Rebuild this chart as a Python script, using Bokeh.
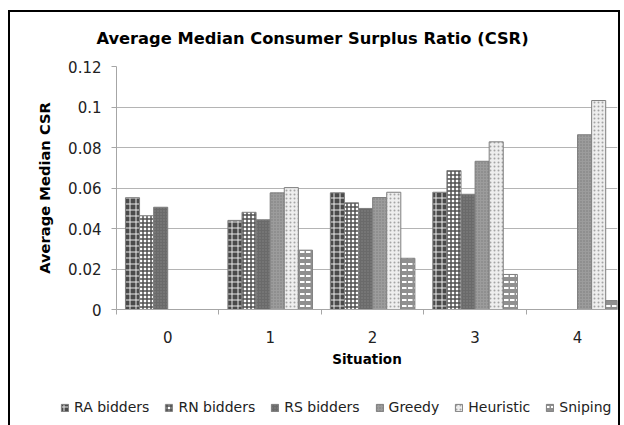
import numpy as np
from bokeh.plotting import figure
from bokeh.layouts import column
from bokeh.models import (ColumnDataSource, FixedTicker, Legend, LegendItem, Range1d,
                          InlineStyleSheet, Label)
from bokeh.transform import dodge
from bokeh.embed import file_html
from bokeh.resources import INLINE

nan = np.nan
situations = [0, 1, 2, 3, 4]
tick_labels = {0: "0", 1: "1", 2: "2", 3: "3", 4: "4"}
series_names = ["RA bidders", "RN bidders", "RS bidders", "Greedy", "Heuristic", "Sniping"]
ra_bidders = [0.0552, 0.0440, 0.0576, 0.0579, nan]
rn_bidders = [0.0463, 0.0480, 0.0527, 0.0686, nan]
rs_bidders = [0.0505, 0.0443, 0.0499, 0.0569, nan]
greedy = [nan, 0.0576, 0.0553, 0.0732, 0.0863]
heuristic = [nan, 0.0602, 0.0579, 0.0828, 0.1032]
sniping = [nan, 0.0293, 0.0253, 0.0173, 0.0044]

source = ColumnDataSource(dict(
    x=situations, ra=ra_bidders, rn=rn_bidders, rs=rs_bidders,
    greedy=greedy, heuristic=heuristic, sniping=sniping))


def strip(height):
    f = figure(width=624, height=height, output_backend="svg", toolbar_location=None,
               x_range=Range1d(0, 1), y_range=Range1d(0, 1),
               min_border_left=0, min_border_right=0, min_border_top=0, min_border_bottom=0)
    f.axis.visible = False
    f.grid.visible = False
    f.outline_line_color = None
    f.border_fill_color = "white"
    return f


# title strip
tf = strip(56)
tf.add_layout(Label(x=312, y=18, x_units="screen", y_units="screen",
                    text="Average Median Consumer Surplus Ratio (CSR)",
                    text_align="center", text_baseline="middle", text_font="DejaVu Sans",
                    text_font_style="bold", text_font_size="16.3px", text_color="black"))

p = figure(width=624, height=334, output_backend="svg", toolbar_location=None,
           x_range=Range1d(-0.5, 4.39), y_range=Range1d(0, 0.12),
           min_border_left=116, min_border_right=7, min_border_top=10,
           min_border_bottom=81)
p.outline_line_color = None
p.background_fill_color = "white"
p.border_fill_color = "white"

styles = [
    dict(fill_color="#4a4a4a", hatch_pattern="cross", hatch_color="#e8e8e8", hatch_scale=6, hatch_weight=1),
    dict(fill_color="white", hatch_pattern="cross", hatch_color="#505050", hatch_scale=4, hatch_weight=1.5),
    dict(fill_color="#6a6a6a", hatch_pattern="dot", hatch_color="#858585", hatch_scale=3, hatch_weight=1),
    dict(fill_color="#9c9c9c", hatch_pattern="dot", hatch_color="#7a7a7a", hatch_scale=3, hatch_weight=1),
    dict(fill_color="#eeeeee", hatch_pattern="dot", hatch_color="#a4a4a4", hatch_scale=4, hatch_weight=2.5),
    dict(fill_color="#909090", hatch_pattern="horizontal_dash", hatch_color="white", hatch_scale=6, hatch_weight=2),
]
cols = ["ra", "rn", "rs", "greedy", "heuristic", "sniping"]
bw = 0.1375
for i, (c, st) in enumerate(zip(cols, styles)):
    p.vbar(x=dodge("x", (i - 2.5) * bw, range=p.x_range), top=c, width=bw,
           source=source, line_color="#7f7f7f", line_width=1, **st)

# axes
p.yaxis.ticker = FixedTicker(ticks=[0, 0.02, 0.04, 0.06, 0.08, 0.1, 0.12])
p.yaxis.major_label_overrides = {0: "0", 0.02: "0.02", 0.04: "0.04", 0.06: "0.06",
                                 0.08: "0.08", 0.1: "0.1", 0.12: "0.12"}
p.xaxis.ticker = FixedTicker(ticks=situations, minor_ticks=[-0.5, 0.5, 1.5, 2.5, 3.5, 4.5])
p.xaxis.major_label_overrides = tick_labels
for ax in (p.xaxis, p.yaxis):
    ax.axis_line_color = "#a6a6a6"
    ax.major_tick_line_color = "#a6a6a6"
    ax.minor_tick_line_color = "#a6a6a6"
    ax.major_label_text_font = "DejaVu Sans"
    ax.major_label_text_font_size = "15px"
    ax.major_label_text_color = "#222222"
    ax.axis_label_text_font = "DejaVu Sans"
    ax.axis_label_text_font_style = "bold"
    ax.axis_label_text_color = "black"
p.xaxis.axis_label_text_font_size = "13.5px"
p.yaxis.axis_label_text_font_size = "14.7px"
p.yaxis.major_tick_out = 5
p.yaxis.major_tick_in = 0
p.yaxis.minor_tick_out = 0
p.yaxis.minor_tick_in = 0
p.yaxis.major_label_standoff = 10
p.yaxis.axis_label = "Average Median CSR"
p.yaxis.axis_label_standoff = 12
p.xaxis.major_tick_out = 0
p.xaxis.major_tick_in = 0
p.xaxis.minor_tick_out = 5
p.xaxis.minor_tick_in = 0
p.xaxis.major_label_standoff = 16
p.xaxis.axis_label = "Situation"
p.xaxis.axis_label_standoff = 5
p.xgrid.grid_line_color = None
p.ygrid.grid_line_color = "#b4b4b4"
p.ygrid.ticker = FixedTicker(ticks=[0.02, 0.04, 0.06, 0.08, 0.1, 0.12])

# legend strip (separate small figure holding the key)
lg = strip(35)
proxy = ColumnDataSource(dict(x=[nan], top=[nan]))
items = []
for name, st in zip(series_names, styles):
    r = lg.vbar(x="x", top="top", width=0.1, source=proxy,
                line_color="#7f7f7f", line_width=1, **st)
    items.append(LegendItem(label=name, renderers=[r]))
legend = Legend(items=items, orientation="horizontal", location=(60, 10),
                glyph_width=9, glyph_height=9, label_text_font="DejaVu Sans",
                label_text_font_size="14px", label_standoff=5, spacing=15,
                padding=0, margin=0, border_line_color=None,
                background_fill_alpha=0, label_text_color="#222222")
lg.add_layout(legend, "center")

for f in (tf, p, lg):
    try:
        f.frame_align = False
    except Exception:
        pass

layout = column(tf, p, lg, spacing=0)
layout.stylesheets = [InlineStyleSheet(css="""
:host { position: relative; }
:host::after {
  content: ""; position: absolute; left: 8px; top: 10px; width: 608px; height: 430px;
  border-left: 2px solid black; border-top: 2px solid black; border-right: 2px solid black;
  pointer-events: none; box-sizing: content-box;
}
""")]

open("out.html", "w").write(file_html(layout, INLINE))
